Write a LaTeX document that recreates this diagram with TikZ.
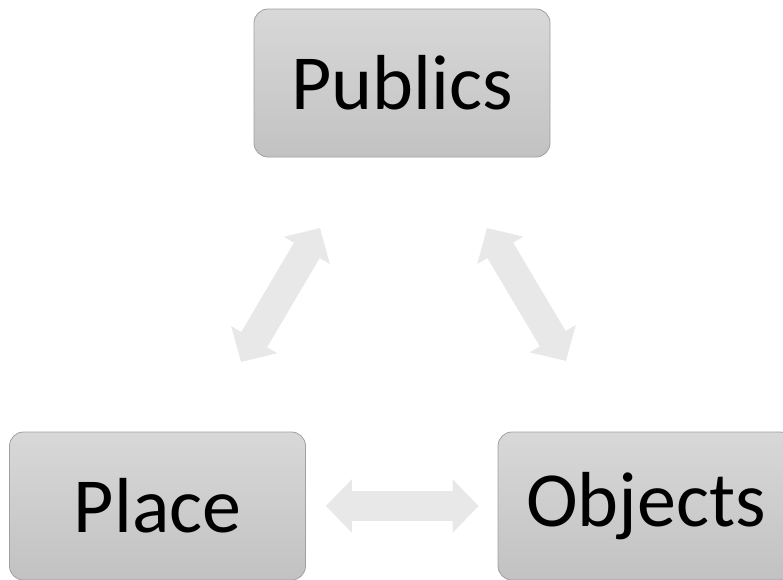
\documentclass[tikz,border=0pt]{standalone}
\usepackage{fontspec}
\setmainfont{Carlito}
\definecolor{boxTop}{RGB}{216,216,216}
\definecolor{boxBot}{RGB}{194,194,194}
\definecolor{boxLine}{RGB}{160,160,160}
\definecolor{linkGray}{RGB}{232,232,232}
\usetikzlibrary{arrows.meta,positioning}

\begin{document}
\begin{tikzpicture}[x=1pt, y=-1pt,
    every node/.style={font=\fontsize{78}{90}\selectfont},
    termbox/.style={draw=boxLine, line width=0.8pt, rounded corners=14pt,
      top color=boxTop, bottom color=boxBot,
      minimum width=296pt, minimum height=148pt, inner sep=0pt},
    link/.style={linkGray, line width=30pt,
      {Triangle[length=26pt,width=52pt]}-{Triangle[length=26pt,width=52pt]}}]
    \useasboundingbox (0,0) rectangle (783,579);
    % The three terms
    \node[termbox] (publics) at (402,83) {Publics};
    \node[termbox] (place) at (157.5,506) {Place};
    \node[termbox] (objects) at (646,506) {Objects};
    % Ends of the slanted arrows
    \coordinate (pl-low) at (241,362);
    \coordinate (pl-up) at (320,228);
    \coordinate (ob-up) at (487,228);
    \coordinate (ob-low) at (566,361);
    % Two-way links
    \draw[link] (pl-low) -- (pl-up);
    \draw[link] (ob-up) -- (ob-low);
    \draw[link, shorten <=20pt, shorten >=19pt] (place.east) -- (objects.west);
  \end{tikzpicture}
\end{document}
